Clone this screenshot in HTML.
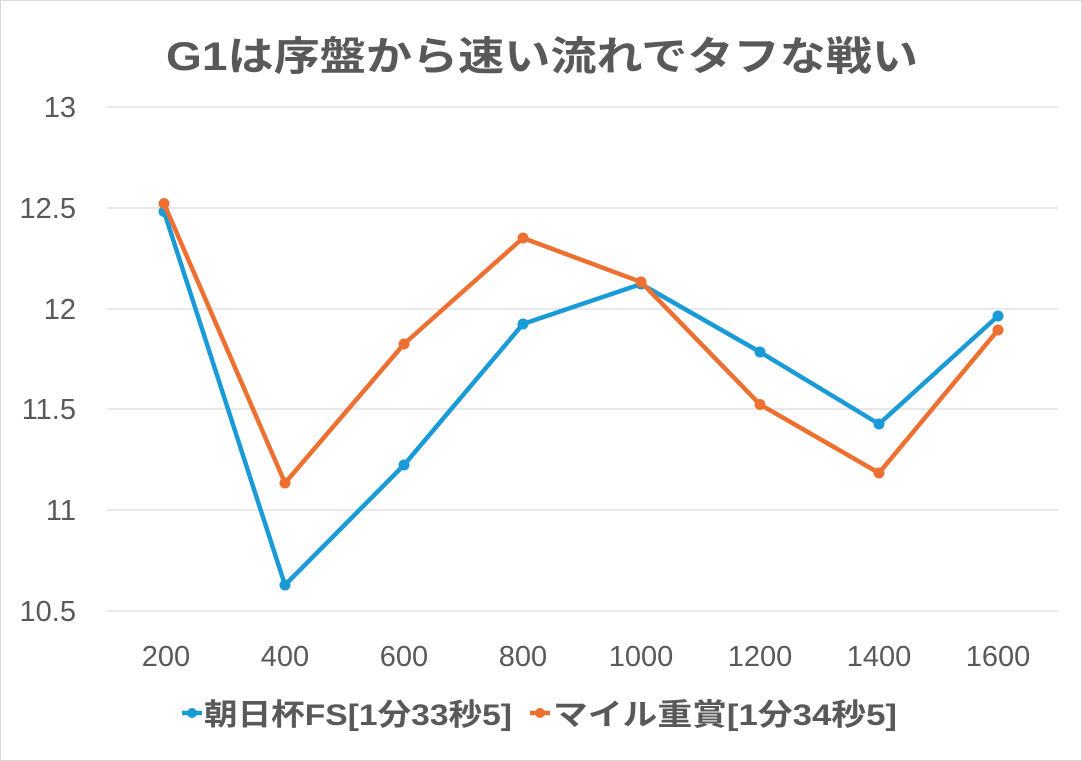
<!DOCTYPE html>
<html><head><meta charset="utf-8"><style>
html,body{margin:0;padding:0;background:#fff}
svg{display:block}
text{font-family:"Liberation Sans","Noto Sans CJK JP",sans-serif;fill:#595959}
</style></head><body>
<svg width="1082" height="761" viewBox="0 0 1082 761" xmlns="http://www.w3.org/2000/svg">
<rect x="0.5" y="0.5" width="1081" height="760" fill="#fff" stroke="#d9d9d9"/>
<text x="166" y="70" font-size="40" font-weight="bold" textLength="752" lengthAdjust="spacingAndGlyphs">G1は序盤から速い流れでタフな戦い</text>
<g stroke="#d9d9d9" stroke-width="1.3">
<line x1="107" x2="1058" y1="107" y2="107"/>
<line x1="107" x2="1058" y1="208" y2="208"/>
<line x1="107" x2="1058" y1="309" y2="309"/>
<line x1="107" x2="1058" y1="409" y2="409"/>
<line x1="107" x2="1058" y1="510" y2="510"/>
<line x1="107" x2="1058" y1="611" y2="611"/>
</g>
<g font-size="29" text-anchor="end">
<text x="76" y="117">13</text>
<text x="76" y="218">12.5</text>
<text x="76" y="319">12</text>
<text x="76" y="419">11.5</text>
<text x="76" y="520">11</text>
<text x="76" y="621">10.5</text>
</g>
<g font-size="29" text-anchor="middle">
<text x="166" y="666">200</text><text x="285" y="666">400</text><text x="404" y="666">600</text><text x="523" y="666">800</text>
<text x="641" y="666">1000</text><text x="760" y="666">1200</text><text x="879" y="666">1400</text><text x="998" y="666">1600</text>
</g>
<polyline fill="none" stroke="#1a9ad6" stroke-width="4.5" stroke-linejoin="round" points="164,211.5 285,585 404,465 523,324 641,284 760,352 879,424 998,316"/>
<g fill="#1a9ad6">
<circle cx="164" cy="211.5" r="5.5"/><circle cx="285" cy="585" r="5.5"/><circle cx="404" cy="465" r="5.5"/><circle cx="523" cy="324" r="5.5"/><circle cx="641" cy="284" r="5.5"/><circle cx="760" cy="352" r="5.5"/><circle cx="879" cy="424" r="5.5"/><circle cx="998" cy="316" r="5.5"/>
</g>
<polyline fill="none" stroke="#ed7031" stroke-width="4.5" stroke-linejoin="round" points="164,203.5 285,483 404,344 523,238 641,282 760,404.5 879,473 998,330"/>
<g fill="#ed7031">
<circle cx="164" cy="203.5" r="5.5"/><circle cx="285" cy="483" r="5.5"/><circle cx="404" cy="344" r="5.5"/><circle cx="523" cy="238" r="5.5"/><circle cx="641" cy="282" r="5.5"/><circle cx="760" cy="404.5" r="5.5"/><circle cx="879" cy="473" r="5.5"/><circle cx="998" cy="330" r="5.5"/>
</g>
<line x1="182" x2="202" y1="713" y2="713" stroke="#1a9ad6" stroke-width="4.5"/>
<circle cx="192" cy="713" r="5" fill="#1a9ad6"/>
<text x="204" y="725" font-size="30" font-weight="bold" textLength="308" lengthAdjust="spacingAndGlyphs">朝日杯FS[1分33秒5]</text>
<line x1="530" x2="550" y1="713" y2="713" stroke="#ed7031" stroke-width="4.5"/>
<circle cx="540" cy="713" r="5" fill="#ed7031"/>
<text x="553" y="725" font-size="30" font-weight="bold" textLength="344" lengthAdjust="spacingAndGlyphs">マイル重賞[1分34秒5]</text>
</svg>
</body></html>
